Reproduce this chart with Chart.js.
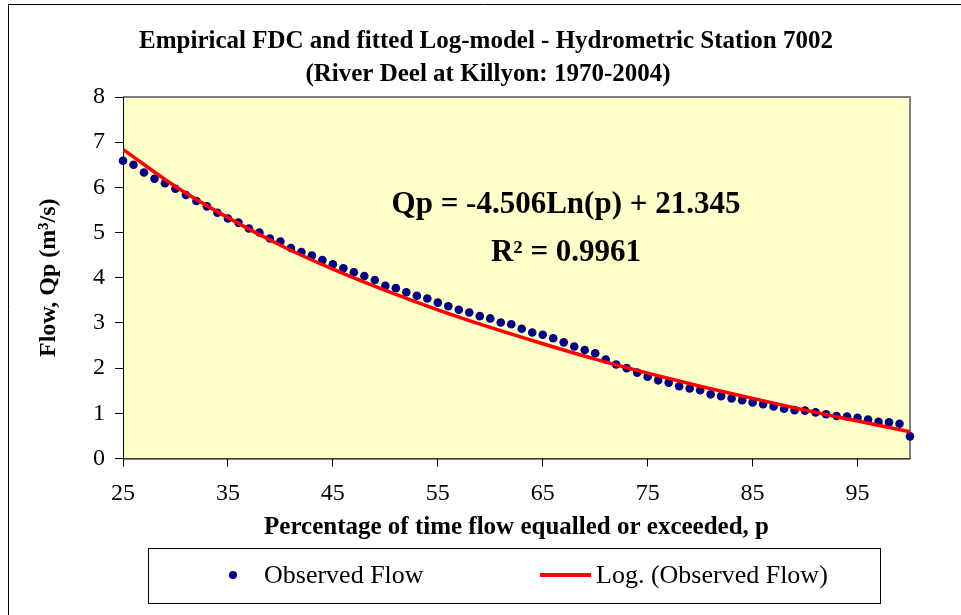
<!DOCTYPE html>
<html>
<head>
<meta charset="utf-8">
<script src="https://cdn.jsdelivr.net/npm/chart.js@4.4.1/dist/chart.umd.min.js"></script>
<style>
  html, body { margin: 0; padding: 0; background: #fff; }
  #wrap { position: relative; width: 961px; height: 615px; }
</style>
</head>
<body>
<div id="wrap"><canvas id="c" width="961" height="615"></canvas></div>
<script>
// ---- Data ----
const titleLines = ['Empirical FDC and fitted Log-model - Hydrometric Station 7002', '(River Deel at Killyon: 1970-2004)'];
const xAxisTitle = 'Percentage of time flow equalled or exceeded, p';
const yAxisTitle = 'Flow, Qp (m\u00B3/s)';
const equationText = 'Qp = -4.506Ln(p) + 21.345';
const r2Text = 'R\u00B2 = 0.9961';
const seriesNames = ['Observed Flow', 'Log. (Observed Flow)'];

const flowPercent = [25,26,27,28,29,30,31,32,33,34,35,36,37,38,39,40,41,42,43,44,45,46,47,48,49,50,
  51,52,53,54,55,56,57,58,59,60,61,62,63,64,65,66,67,68,69,70,71,72,73,74,75,
  76,77,78,79,80,81,82,83,84,85,86,87,88,89,90,91,92,93,94,95,96,97,98,99,100];
const observedFlow = [6.59,6.50,6.33,6.19,6.09,5.97,5.83,5.70,5.58,5.44,5.31,5.22,5.09,5.00,4.87,4.80,4.66,4.57,4.49,4.39,4.30,4.21,4.12,4.04,3.95,3.82,
  3.77,3.68,3.60,3.54,3.45,3.37,3.29,3.23,3.15,3.10,3.01,2.97,2.87,2.79,2.74,2.66,2.57,2.48,2.40,2.33,2.19,2.08,2.00,1.90,1.81,
  1.73,1.68,1.60,1.55,1.51,1.42,1.38,1.33,1.29,1.24,1.20,1.15,1.10,1.07,1.06,1.02,0.98,0.94,0.93,0.90,0.86,0.81,0.80,0.77,0.49];

const trendPercent = [25,30,35,40,45,50,55,60,65,70,75,80,85,90,95,100];
const trendFlow = [6.84,6.02,5.33,4.72,4.19,3.72,3.29,2.90,2.54,2.20,1.89,1.60,1.33,1.07,0.83,0.59];

const xTickValues = [25,35,45,55,65,75,85,95];
const yTickValues = [0,1,2,3,4,5,6,7,8];

// ---- Chart ----
const FONT = "'Liberation Serif', 'Times New Roman', serif";

const decorPlugin = {
  id: 'decor',
  beforeDatasetsDraw(chart) {
    const {ctx, chartArea: a} = chart;
    ctx.save();
    ctx.fillStyle = '#FFFFCC';
    ctx.fillRect(a.left, a.top, a.right - a.left, a.bottom - a.top);
    ctx.strokeStyle = '#808080';
    ctx.lineWidth = 2;
    ctx.beginPath();
    ctx.moveTo(a.left, a.top);
    ctx.lineTo(a.right, a.top);
    ctx.lineTo(a.right, a.bottom);
    ctx.stroke();
    ctx.strokeStyle = '#000';
    ctx.lineWidth = 1;
    ctx.beginPath();
    ctx.moveTo(a.left + 0.5, a.top);
    ctx.lineTo(a.left + 0.5, a.bottom + 0.5);
    ctx.lineTo(a.right, a.bottom + 0.5);
    ctx.stroke();
    ctx.restore();
  },
  afterDraw(chart) {
    const {ctx} = chart;
    ctx.save();
    ctx.strokeStyle = '#000';
    ctx.lineWidth = 1;
    ctx.beginPath();
    ctx.moveTo(8.5, 615);
    ctx.lineTo(8.5, 4.5);
    ctx.lineTo(961, 4.5);
    ctx.stroke();

    ctx.fillStyle = '#000';
    ctx.textAlign = 'center';
    ctx.textBaseline = 'middle';
    ctx.font = 'bold 25px ' + FONT;
    ctx.fillText(titleLines[0], 486, 42);
    ctx.fillText(titleLines[1], 488, 75);

    ctx.font = 'bold 31px ' + FONT;
    ctx.fillText(equationText, 566, 205);
    ctx.fillText(r2Text, 566, 253);

    ctx.fillStyle = '#fff';
    ctx.fillRect(148, 548, 732, 55);
    ctx.strokeStyle = '#000';
    ctx.lineWidth = 1;
    ctx.strokeRect(148.5, 548.5, 732, 55);
    ctx.fillStyle = '#000080';
    ctx.beginPath();
    ctx.arc(233, 575, 4, 0, Math.PI * 2);
    ctx.fill();
    ctx.strokeStyle = '#FF0000';
    ctx.lineWidth = 4;
    ctx.beginPath();
    ctx.moveTo(540, 575);
    ctx.lineTo(591, 575);
    ctx.stroke();
    ctx.fillStyle = '#000';
    ctx.textAlign = 'left';
    ctx.font = '26px ' + FONT;
    ctx.fillText(seriesNames[0], 264, 576);
    ctx.fillText(seriesNames[1], 596, 576);
    ctx.restore();
  }
};

new Chart(document.getElementById('c'), {
  type: 'scatter',
  data: {
    datasets: [
      {
        type: 'line',
        label: seriesNames[1],
        data: trendPercent.map((p, i) => ({x: p, y: trendFlow[i]})),
        borderColor: '#FF0000',
        borderWidth: 3.5,
        pointRadius: 0,
        cubicInterpolationMode: 'monotone',
        fill: false,
        order: 0
      },
      {
        label: seriesNames[0],
        data: flowPercent.map((p, i) => ({x: p, y: observedFlow[i]})),
        backgroundColor: '#000080',
        borderColor: '#000080',
        borderWidth: 0,
        pointRadius: 4.3,
        pointHoverRadius: 4.3,
        clip: false,
        order: 1
      }
    ]
  },
  options: {
    responsive: false,
    animation: false,
    events: [],
    layout: { padding: { left: 8, right: 51, top: 97, bottom: 0 } },
    plugins: {
      legend: { display: false },
      title: { display: false },
      tooltip: { enabled: false }
    },
    scales: {
      x: {
        type: 'linear',
        min: 25,
        max: 100,
        afterBuildTicks(scale) { scale.ticks = xTickValues.map(v => ({value: v})); },
        afterFit(scale) { scale.height = 156.5; },
        grid: { drawOnChartArea: false, drawTicks: true, tickLength: 8, color: '#000', lineWidth: 1 },
        border: { display: true, color: '#000', width: 1 },
        ticks: {
          autoSkip: false, maxRotation: 0, padding: 13, color: '#000',
          font: { family: FONT, size: 24 }
        },
        title: {
          display: true, text: xAxisTitle, color: '#000',
          font: { family: FONT, size: 25, weight: 'bold' },
          padding: { top: 0, bottom: 72 }
        }
      },
      y: {
        min: 0,
        max: 8,
        afterBuildTicks(scale) { scale.ticks = yTickValues.map(v => ({value: v})); },
        afterFit(scale) { scale.width = 115; },
        grid: { drawOnChartArea: false, drawTicks: true, tickLength: 8, color: '#000', lineWidth: 1 },
        border: { display: true, color: '#000', width: 1 },
        ticks: {
          padding: 10, color: '#000',
          font: { family: FONT, size: 24 }
        },
        title: {
          display: true, text: yAxisTitle, color: '#000',
          font: { family: FONT, size: 24, weight: 'bold' },
          padding: { top: 26, bottom: 0 }
        }
      }
    }
  },
  plugins: [decorPlugin]
});
</script>
</body>
</html>
